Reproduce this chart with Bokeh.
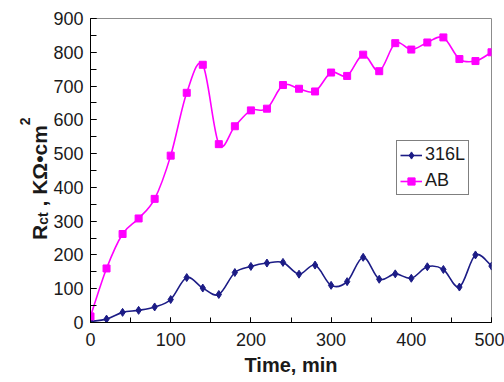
from bokeh.plotting import figure
from bokeh.layouts import row
from bokeh.models import (Range1d, SingleIntervalTicker, Legend, LegendItem, Title, Div)
from bokeh.embed import file_html
from bokeh.resources import INLINE

# ---- data ----
time_min = [0, 20, 40, 60, 80, 100, 120, 140, 160, 180, 200, 220, 240,
            260, 280, 300, 320, 340, 360, 380, 400, 420, 440, 460, 480, 500]
rct_316L = [3, 10, 30, 36, 46, 68, 133, 102, 83, 148, 166, 176, 178,
            143, 170, 110, 121, 193, 128, 144, 131, 165, 157, 105, 200, 167]
rct_AB = [18, 160, 262, 308, 366, 494, 680, 763, 528, 581, 628, 633, 703,
          692, 684, 740, 730, 793, 744, 827, 808, 829, 844, 780, 774, 800]
series_names = ["316L", "AB"]
x_title = "Time, min"
y_title_parts = ["R", "ct", " , K\u03a9\u2022cm", "2"]

FONT = "Liberation Sans"
TXT = "#1a1a1a"
LEFT_W = 50


def smooth_segments(xs, ys):
    n = len(xs)
    out = dict(x0=[], y0=[], x1=[], y1=[], cx0=[], cy0=[], cx1=[], cy1=[])
    for i in range(n - 1):
        p0 = i - 1 if i > 0 else i
        p3 = i + 2 if i + 2 < n else i + 1
        out["x0"].append(xs[i]); out["y0"].append(ys[i])
        out["x1"].append(xs[i + 1]); out["y1"].append(ys[i + 1])
        out["cx0"].append(xs[i] + (xs[i + 1] - xs[p0]) / 6.0)
        out["cy0"].append(ys[i] + (ys[i + 1] - ys[p0]) / 6.0)
        out["cx1"].append(xs[i + 1] - (xs[p3] - xs[i]) / 6.0)
        out["cy1"].append(ys[i + 1] - (ys[p3] - ys[i]) / 6.0)
    return out


p = figure(width=504 - LEFT_W, height=382, output_backend="svg", toolbar_location=None,
           x_range=Range1d(0, 500), y_range=Range1d(0, 900),
           min_border_left=89 - LEFT_W, min_border_right=13, min_border_top=18,
           min_border_bottom=60)
p.background_fill_color = "white"
p.border_fill_color = None
p.outline_line_color = "#8c8c8c"
p.outline_line_width = 1
p.grid.visible = False

p.xaxis.ticker = SingleIntervalTicker(interval=100, num_minor_ticks=2)
p.yaxis.ticker = SingleIntervalTicker(interval=100, num_minor_ticks=2)
for ax in (p.xaxis[0], p.yaxis[0]):
    ax.axis_line_color = "black"
    ax.axis_line_width = 1
    ax.major_tick_line_color = "black"
    ax.minor_tick_line_color = "black"
    ax.major_tick_out = 0
    ax.minor_tick_out = 0
    ax.major_label_text_font = FONT
    ax.major_label_text_font_size = "18px"
    ax.major_label_text_color = TXT
    ax.axis_label = None
p.xaxis.major_tick_in = 5
p.xaxis.minor_tick_in = 5
p.yaxis.major_tick_in = 6
p.yaxis.minor_tick_in = 6
p.xaxis.major_label_standoff = 10
p.yaxis.major_label_standoff = 7

colors = ["#1c1c86", "#ff00ff"]
markers = ["diamond", "square"]
msizes = [8, 7]
items = []
for name, ys, col, mk, ms in zip(series_names, [rct_316L, rct_AB], colors, markers, msizes):
    seg = smooth_segments(time_min, ys)
    br = p.bezier(x0=seg["x0"], y0=seg["y0"], x1=seg["x1"], y1=seg["y1"],
                  cx0=seg["cx0"], cy0=seg["cy0"], cx1=seg["cx1"], cy1=seg["cy1"],
                  line_color=col, line_width=1.6)
    sr = p.scatter(time_min, ys, marker=mk, size=ms, fill_color=col, line_color=col)
    items.append(LegendItem(label=name, renderers=[br, sr]))

legend = Legend(items=items, location=(306, 127), orientation="vertical",
                border_line_color="black", border_line_width=1,
                background_fill_color="white", background_fill_alpha=1,
                label_text_font=FONT, label_text_font_size="18px",
                label_text_color=TXT,
                glyph_width=22, glyph_height=18, label_height=18,
                label_standoff=3, padding=3, spacing=5, margin=0)
p.add_layout(legend, "center")

p.add_layout(Title(text=x_title, align="center", offset=10, standoff=7,
                   text_font=FONT, text_font_style="bold", text_font_size="20px",
                   text_color=TXT), "below")

# y axis title: rotated HTML text with subscript / superscript
sub_style = "font-size:14px; line-height:0; vertical-align:-1px;"
sup_style = "font-size:14px; line-height:0; vertical-align:17px;"
box_style = ("position:absolute; left:25px; top:240px; transform-origin:0 0; "
             "transform:rotate(-90deg); white-space:nowrap; "
             f"font-family:'{FONT}'; font-weight:bold; font-size:21px; "
             f"line-height:21px; color:{TXT}; margin:0; padding:0;")
html = (f'<div style="{box_style}">{y_title_parts[0]}'
        f'<span style="{sub_style}">{y_title_parts[1]}</span>{y_title_parts[2]}'
        f'<span style="{sup_style}">{y_title_parts[3]}</span></div>')
ytitle = Div(text=html, width=LEFT_W, height=382, margin=0,
             styles={"position": "relative", "overflow": "visible", "z-index": "5"})

layout = row(ytitle, p, spacing=0)
open("out.html", "w").write(file_html(layout, INLINE))
